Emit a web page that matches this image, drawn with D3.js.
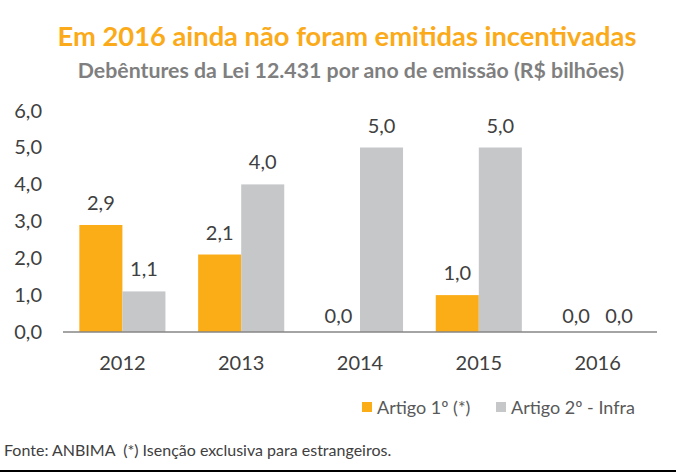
<!DOCTYPE html>
<html><head><meta charset="utf-8">
<script src="https://cdn.jsdelivr.net/npm/d3@7"></script>
<style>html,body{margin:0;padding:0;background:#fff;}svg{display:block;font-family:Lato,"Open Sans",sans-serif;}</style>
</head><body>
<script>
const years = ["2012","2013","2014","2015","2016"];
const seriesNames = ["Artigo 1º (*)","Artigo 2º - Infra"];
const artigo1 = [2.9, 2.1, 0.0, 1.0, 0.0];
const artigo2 = [1.1, 4.0, 5.0, 5.0, 0.0];
const yTicks = [0,1,2,3,4,5,6];
const colors = ["#FBAD18","#C6C7C9"];
const title = "Em 2016 ainda não foram emitidas incentivadas";
const subtitle = "Debêntures da Lei 12.431 por ano de emissão (R$ bilhões)";
const footer = "Fonte: ANBIMA  (*) Isenção exclusiva para estrangeiros.";

const W = 676, H = 473;
const svg = d3.select("body").append("svg").attr("width", W).attr("height", H);
const fmt = v => d3.format(".1f")(v).replace(".", ",");

const x = d3.scaleBand().domain(years).range([63, 657]).paddingInner(0).paddingOuter(0);
const xs = d3.scaleBand().domain([0,1]).range([0, x.bandwidth()]).paddingOuter(0.38).paddingInner(0);
const y = d3.scaleLinear().domain([0, 6]).range([332, 110.6]);

svg.append("text").attr("x", 347).attr("y", 46).attr("text-anchor","middle")
  .attr("font-size", 27.3).attr("font-weight","bold").attr("fill","#FBAA19").text(title);
svg.append("text").attr("x", 351).attr("y", 78).attr("text-anchor","middle")
  .attr("font-size", 21.3).attr("font-weight","bold").attr("fill","#7F7F7F").text(subtitle);

// y axis labels
const yAxis = d3.axisLeft(y).tickValues(yTicks).tickFormat(fmt).tickSize(0).tickPadding(0);
const ya = svg.append("g").attr("transform","translate(42,0)").call(yAxis);
ya.select(".domain").remove();
ya.selectAll("text").attr("font-size", 20).attr("fill","#404040").attr("font-family","Lato,'Open Sans',sans-serif");

const series = [artigo1, artigo2];
const g = svg.append("g");
years.forEach((yr, i) => {
  series.forEach((s, k) => {
    const v = s[i];
    g.append("rect").attr("x", x(yr) + xs(k)).attr("width", xs.bandwidth())
      .attr("y", y(v)).attr("height", y(0) - y(v)).attr("fill", colors[k]);
    g.append("text").attr("x", x(yr) + xs(k) + xs.bandwidth()/2).attr("y", y(v) - (v === 0 ? 9 : 15))
      .attr("text-anchor","middle").attr("font-size", 20).attr("fill","#404040").text(fmt(v));
  });
});

// x axis
const xAxis = d3.axisBottom(x).tickSize(0).tickPadding(0);
const xa = svg.append("g").attr("transform","translate(0,332)").call(xAxis);
xa.select(".domain").attr("stroke","#868686").attr("stroke-width",1.5).attr("d","M63,0H657");
xa.selectAll("text").attr("font-size", 20).attr("fill","#404040").attr("dy", null).attr("y", 38)
  .attr("font-family","Lato,'Open Sans',sans-serif");

// legend
const leg = svg.append("g");
const legX = [362, 496];
seriesNames.forEach((n, k) => {
  leg.append("rect").attr("x", legX[k]).attr("y", 402).attr("width", 10).attr("height", 10).attr("fill", colors[k]);
  leg.append("text").attr("x", legX[k] + 15).attr("y", 414).attr("font-size", 18).attr("fill","#595959").text(n);
});

svg.append("text").attr("x", 4).attr("y", 456).attr("font-size", 16).attr("fill","#404040")
  .style("white-space","pre").text(footer);
svg.append("line").attr("x1",0).attr("x2",W).attr("y1",471).attr("y2",471).attr("stroke","#000").attr("stroke-width",2);
</script>
</body></html>
